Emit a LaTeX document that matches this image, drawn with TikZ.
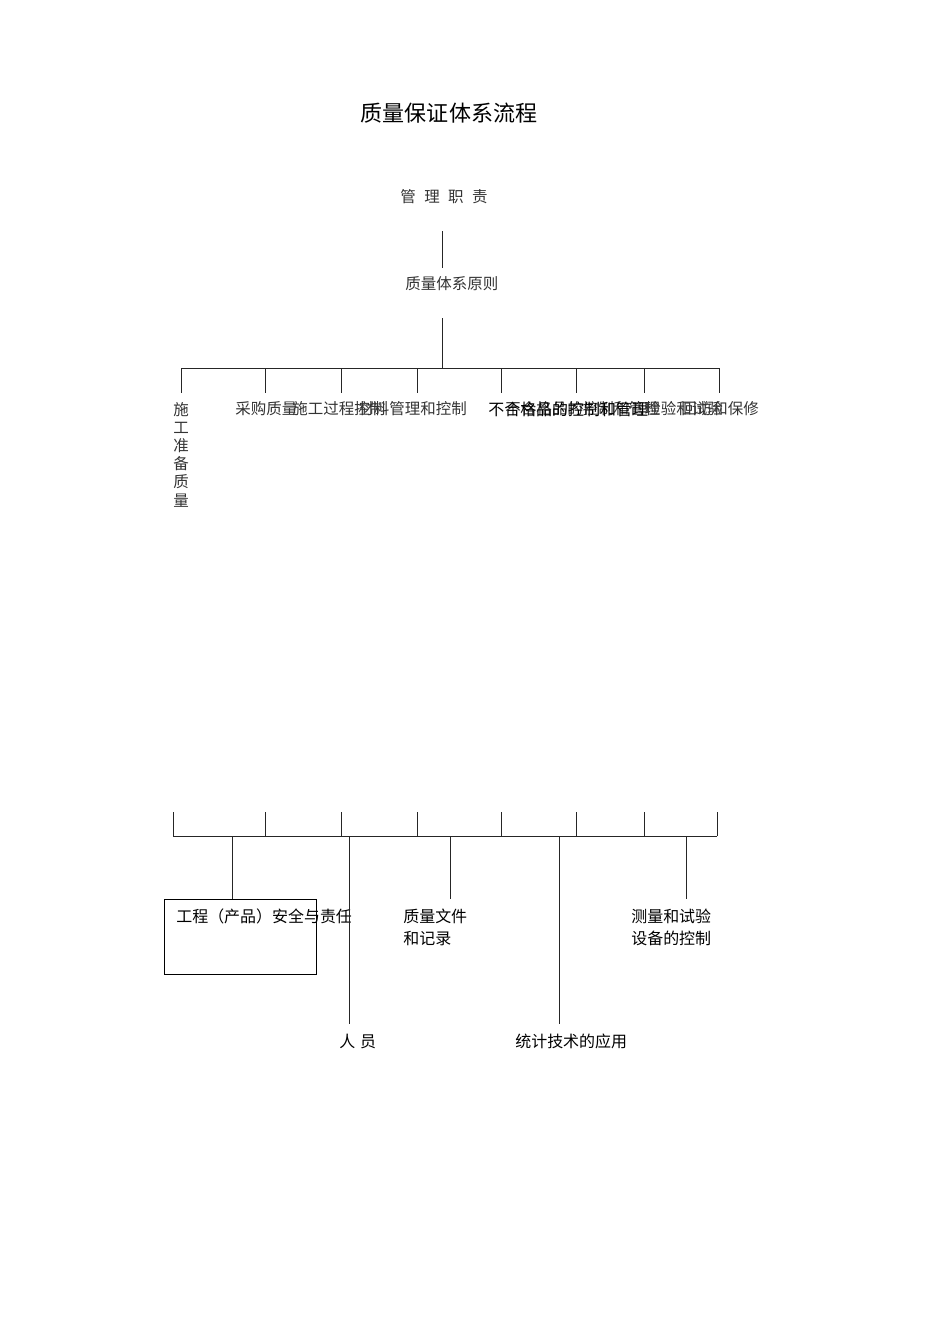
\documentclass[tikz,border=0pt]{standalone}
\usepackage{fontspec}
\setmainfont{Noto Sans CJK SC}
\usetikzlibrary{positioning}

\begin{document}
\begin{tikzpicture}[
      x=0.6263pt, y=-0.6263pt,
      line/.style={line width=0.6pt,black!85},
      title/.style={font=\fontsize{13.8}{16}\selectfont,inner sep=0pt},
      song/.style={font=\fontsize{9.7}{11.4}\selectfont,text=black!80,inner sep=0pt,anchor=west},
      hei/.style={font=\fontsize{10}{13.7}\selectfont,inner sep=0pt,anchor=west,align=left},
      box/.style={draw,line width=0.6pt,minimum width=95.2pt,minimum height=47pt,inner sep=0pt}
    ]
    \useasboundingbox (0,0) rectangle (950,1344);
    % Draw the title and the head of the tree.
    \node[title] (title) at (449,113) {质量保证体系流程};
    \node[song] (duty) at (400,197) {管\hspace{5.3pt}理\hspace{5.3pt}职\hspace{5.3pt}责};
    \node[song] (principle) at (405,284) {质量体系原则};
    \coordinate (d1) at (442,231);
    \coordinate (d2) at (442,268);
    \coordinate (p1) at (442,318);
    \coordinate (p2) at (442,368);
    \draw[line] (d1) -- (d2);
    \draw[line] (p1) -- (p2);
    % Draw the upper bar and its ticks.
    \foreach \x [count=\i] in {181,265,341,417,501,576,644,719} {
      \coordinate (t\i) at (\x,368);
      \coordinate (tt\i) at (\x,393);
      \draw[line] (t\i) -- (tt\i);
    }
    \draw[line] (t1) -- (t8);
    % Labels under the upper bar.
    \node[song,anchor=center,align=center,text width=9.7pt] (prep) at (181,454.5) {施\\工\\准\\备\\质\\量};
    \node[song] (purchase) at (235,409) {采购质量};
    \node[song] (process) at (292,409) {施工过程控制};
    \node[song] (material) at (358,409) {材料管理和控制};
    \node[song] (nonconf2) at (505,409) {不合格品的控制和管理};
    \node[hei] (nonconf) at (488,409) {不合格品的控制和管理};
    \node[song] (inspect) at (645,409) {检验和试验};
    \node[song] (service) at (681,409) {回访和保修};
    % Draw the lower bar and its ticks.
    \foreach \x [count=\i] in {173,265,341,417,501,576,644,717} {
      \coordinate (b\i) at (\x,836);
      \coordinate (bb\i) at (\x,812);
      \draw[line] (b\i) -- (bb\i);
    }
    \draw[line] (b1) -- (b8);
    % Boxes and labels under the lower bar.
    \node[box] (safety) at (240,936.5) {};
    \node[hei] (safetytext) at (176,916) {工程（产品）安全与责任};
    \node[hei] (docs) at (403,927) {质量文件\\和记录};
    \node[hei] (gauges) at (631,927) {测量和试验\\设备的控制};
    \node[hei] (staff) at (339,1041) {人\hspace{3pt}员};
    \node[hei] (stats) at (515,1041) {统计技术的应用};
    \coordinate (s1) at (232,836);
    \coordinate (s2) at (349,836);
    \coordinate (s3) at (450,836);
    \coordinate (s4) at (559,836);
    \coordinate (s5) at (686,836);
    \coordinate (e2) at (349,1024);
    \coordinate (e3) at (450,899);
    \coordinate (e4) at (559,1024);
    \coordinate (e5) at (686,899);
    \draw[line] (s1) -- (s1 |- safety.north);
    \draw[line] (s2) -- (e2);
    \draw[line] (s3) -- (e3);
    \draw[line] (s4) -- (e4);
    \draw[line] (s5) -- (e5);
    \end{tikzpicture}
\end{document}
